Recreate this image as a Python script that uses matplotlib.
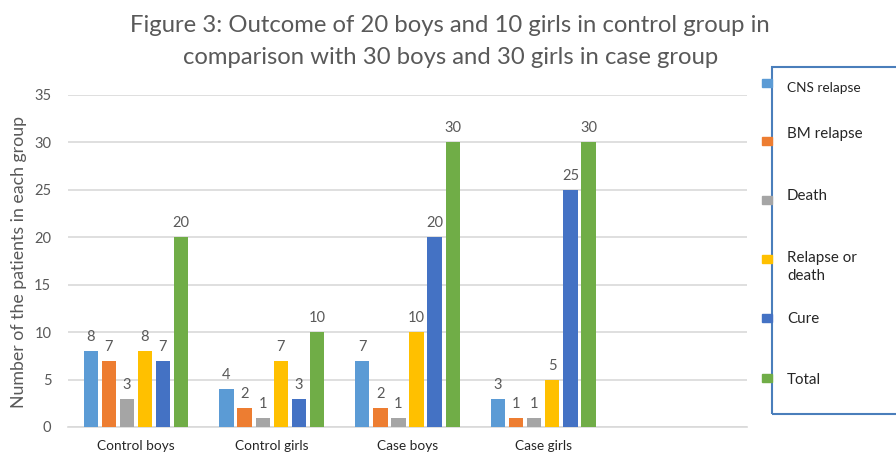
import matplotlib
matplotlib.use("Agg")
import matplotlib.pyplot as plt
import numpy as np
from matplotlib.patches import Rectangle

categories = ["Control boys", "Control girls", "Case boys", "Case girls", ""]
series_names = ["CNS relapse", "BM relapse", "Death", "Relapse or\ndeath", "Cure", "Total"]
cns_relapse = [8, 4, 7, 3, np.nan]
bm_relapse = [7, 2, 2, 1, np.nan]
death = [3, 1, 1, 1, np.nan]
relapse_or_death = [8, 7, 10, 5, np.nan]
cure = [7, 3, 20, 25, np.nan]
total = [20, 10, 30, 30, np.nan]
yticks = [0, 5, 10, 15, 20, 25, 30, 35]

series = [cns_relapse, bm_relapse, death, relapse_or_death, cure, total]
colors = ["#5B9BD5", "#ED7D31", "#A5A5A5", "#FFC000", "#4472C4", "#70AD47"]
text_col = "#595959"
FONT = "Lato"

W, H = 896, 457
fig = plt.figure(figsize=(W / 100, H / 100), dpi=100)
ax = fig.add_axes([68 / W, 1 - 427 / H, (747 - 68) / W, (427 - 95) / H])

x = np.arange(len(categories))
step = 0.133
bw = 0.105
for i, (vals, c) in enumerate(zip(series, colors)):
    off = (i - 2.5) * step
    bars = ax.bar(x + off, vals, width=bw, color=c, zorder=3)
    labels = ["" if np.isnan(v) else f"{int(v)}" for v in vals]
    ax.bar_label(bars, labels=labels, padding=5, color=text_col, fontsize=10.5,
                 family=FONT)

ax.set_xlim(-0.5, len(categories) - 0.5)
ax.set_ylim(0, 35)
ax.set_yticks(yticks)
ax.set_xticks(x)
ax.set_xticklabels(categories, family=FONT, fontsize=9.8, color="#262626")
for lab in ax.get_yticklabels():
    lab.set_family(FONT)
    lab.set_fontsize(10.5)
    lab.set_color(text_col)
ax.tick_params(axis="y", length=0, pad=12)
ax.tick_params(axis="x", length=0, pad=9)
ax.grid(axis="y", color="#d9d9d9", linewidth=1.2, zorder=0)
for s in ["top", "right", "left"]:
    ax.spines[s].set_visible(False)
ax.spines["bottom"].set_color("#d9d9d9")
ax.spines["bottom"].set_linewidth(1.2)
ax.set_ylabel("Number of the patients in each group", family=FONT, fontsize=12.8,
              color=text_col, va="center")
ax.yaxis.set_label_coords(19 / W, 1 - 262 / H, transform=fig.transFigure)

fig.text(450 / W, 1 - 25 / H, "Figure 3: Outcome of 20 boys and 10 girls in control group in",
         ha="center", va="center", family=FONT, fontsize=17.2, color=text_col)
fig.text(451 / W, 1 - 57 / H, "comparison with 30 boys and 30 girls in case group",
         ha="center", va="center", family=FONT, fontsize=17.2, color=text_col)

# legend
box = Rectangle((772 / W, 1 - 414 / H), (W + 5 - 772) / W, (414 - 67) / H,
                transform=fig.transFigure, fill=False, edgecolor="#4a7ebb",
                linewidth=1.5, clip_on=False)
fig.add_artist(box)
marker_y = [83, 141, 200, 259, 318, 378]
text_y = [88, 134, 196, 267, 319, 380]
for name, c, my, ty in zip(series_names, colors, marker_y, text_y):
    fig.add_artist(Rectangle((762 / W, 1 - (my + 4) / H), 10 / W, 8 / H,
                             transform=fig.transFigure, color=c, zorder=1))
    fig.text(787 / W, 1 - ty / H, name, ha="left", va="center", family=FONT,
             fontsize=10.9 if name != "CNS relapse" else 9.8, color="#262626",
             linespacing=1.3)

fig.savefig("out.png", dpi=100)
